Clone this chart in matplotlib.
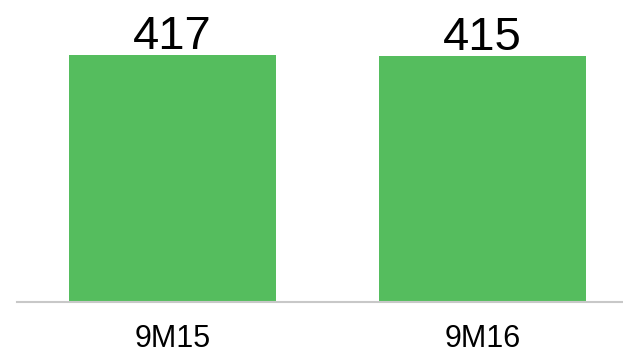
import matplotlib
matplotlib.use("Agg")
import matplotlib.pyplot as plt

periods = ["9M15", "9M16"]
values = [417, 415]

plt.rcParams["font.family"] = ["Liberation Sans", "DejaVu Sans"]

fig = plt.figure(figsize=(6.23, 3.55), dpi=100)
ax = fig.add_axes([17 / 623, 53 / 355, 606 / 623, 302 / 355])

xs = list(range(len(periods)))
bars = ax.bar(xs, values, width=0.668, color="#55BD5E")

for x, v in zip(xs, values):
    ax.annotate(str(v), xy=(x, v), xytext=(0, 4.5), textcoords="offset points",
                ha="center", va="baseline", fontsize=34, color="black")

ax.set_xlim(-0.502, 1.453)
ax.set_ylim(0, 510)
ax.set_xticks(xs, periods, fontsize=22)
ax.tick_params(axis="x", length=0, pad=15.5)
ax.set_yticks([])

for side in ("top", "right", "left"):
    ax.spines[side].set_visible(False)
ax.spines["bottom"].set_color("#C8C8C8")
ax.spines["bottom"].set_linewidth(1.5)

fig.savefig("out.png", dpi=100)
